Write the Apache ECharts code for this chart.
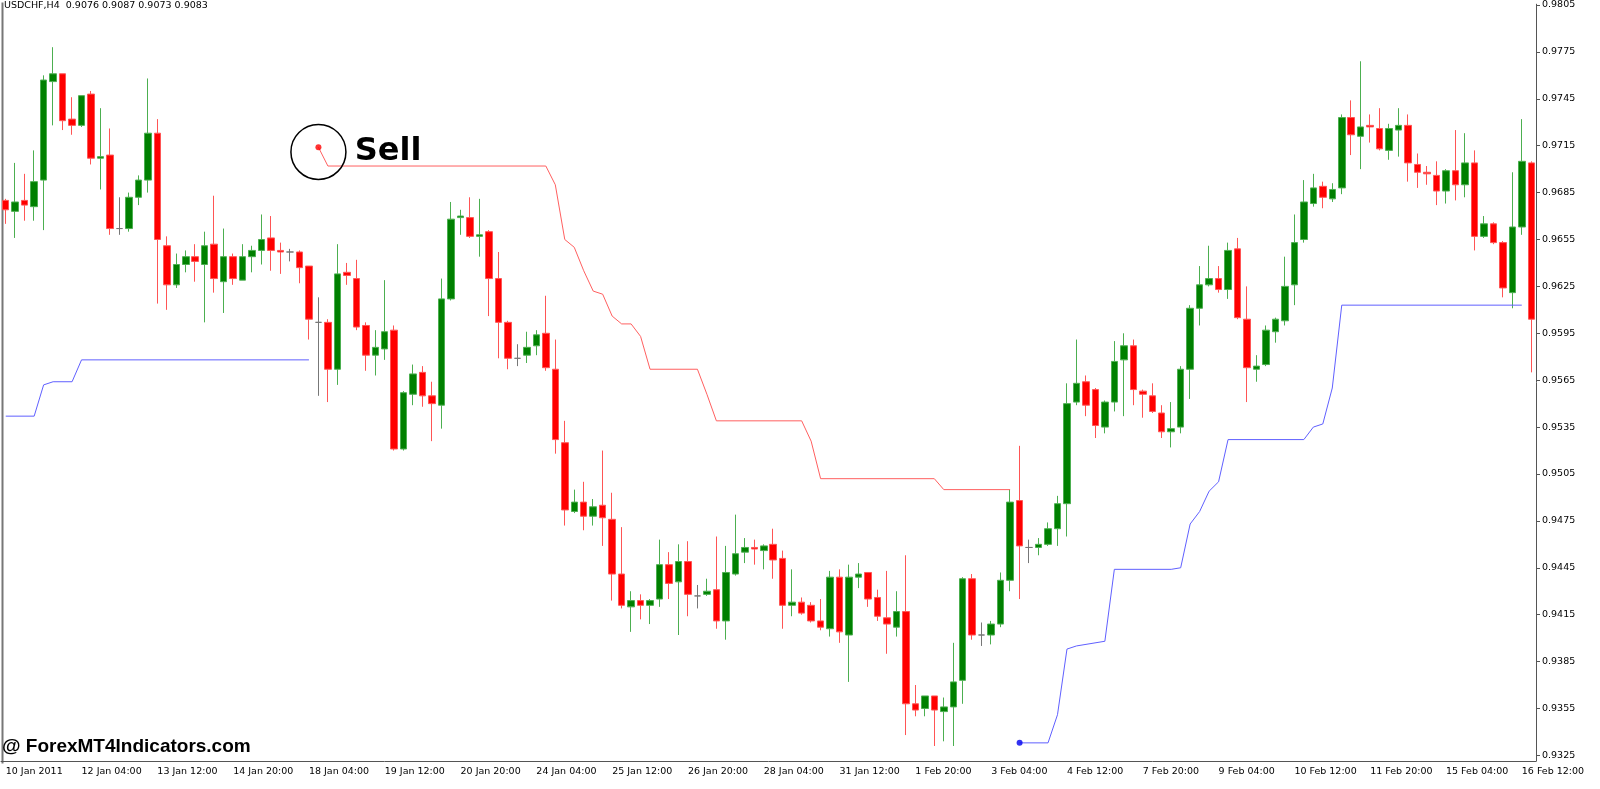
<!DOCTYPE html>
<html>
<head>
<meta charset="utf-8">
<script src="https://cdn.jsdelivr.net/npm/echarts@6/dist/echarts.min.js"></script>
<style>
  html, body { margin: 0; padding: 0; background: #fff; }
  #chart { width: 1600px; height: 789px; }
</style>
</head>
<body>
<div id="chart"></div>
<script>
// USDCHF H4 candles
const opens = [0.9680,0.9673,0.9680,0.9676,0.9693,0.9756,0.9761,0.9732,0.9728,0.9748,
  0.9707,0.9709,0.9662,0.9662,0.9682,0.9693,0.9723,0.9651,0.9626,0.9639,
  0.9644,0.9639,0.9652,0.9628,0.9644,0.9629,0.9644,0.9648,0.9656,0.9648,
  0.9647,0.9647,0.9638,0.9602,0.9602,0.9572,0.9634,0.9630,0.9600,0.9581,
  0.9585,0.9597,0.9521,0.9556,0.9570,0.9555,0.9549,0.9617,0.9669,0.9669,
  0.9657,0.9660,0.9630,0.9602,0.9579,0.9581,0.9587,0.9595,0.9572,0.9525,
  0.9481,0.9487,0.9478,0.9485,0.9476,0.9441,0.9420,0.9424,0.9421,0.9425,
  0.9447,0.9436,0.9449,0.9427,0.9428,0.9431,0.9411,0.9441,0.9455,0.9458,
  0.9456,0.9460,0.9451,0.9421,0.9423,0.9421,0.9411,0.9406,0.9439,0.9402,
  0.9439,0.9442,0.9426,0.9413,0.9407,0.9417,0.9358,0.9355,0.9363,0.9353,
  0.9356,0.9373,0.9438,0.9402,0.9402,0.9409,0.9437,0.9488,0.9458,0.9458,
  0.9460,0.9470,0.9486,0.9551,0.9564,0.9559,0.9535,0.9551,0.9578,0.9587,
  0.9558,0.9555,0.9544,0.9532,0.9535,0.9572,0.9611,0.9626,0.9630,0.9623,
  0.9649,0.9604,0.9572,0.9575,0.9596,0.9603,0.9626,0.9655,0.9678,0.9689,
  0.9681,0.9688,0.9733,0.9721,0.9728,0.9726,0.9712,0.9725,0.9728,0.9703,
  0.9698,0.9696,0.9686,0.9699,0.9690,0.9704,0.9657,0.9665,0.9653,0.9621,
  0.9663,0.9704];
const closes = [0.9674,0.9679,0.9677,0.9692,0.9757,0.9761,0.9731,0.9728,0.9747,0.9707,
  0.9708,0.9662,0.9662,0.9682,0.9693,0.9723,0.9655,0.9626,0.9639,0.9644,
  0.9641,0.9651,0.9630,0.9644,0.9630,0.9644,0.9648,0.9655,0.9648,0.9647,
  0.9647,0.9637,0.9604,0.9602,0.9572,0.9633,0.9632,0.9599,0.9581,0.9586,
  0.9596,0.9521,0.9557,0.9569,0.9555,0.9550,0.9617,0.9668,0.9670,0.9657,
  0.9658,0.9630,0.9602,0.9579,0.9579,0.9586,0.9594,0.9573,0.9527,0.9482,
  0.9487,0.9478,0.9484,0.9477,0.9441,0.9421,0.9424,0.9421,0.9424,0.9447,
  0.9435,0.9449,0.9428,0.9427,0.9430,0.9411,0.9442,0.9454,0.9458,0.9457,
  0.9459,0.9450,0.9421,0.9423,0.9416,0.9411,0.9407,0.9439,0.9404,0.9439,
  0.9441,0.9425,0.9414,0.9409,0.9417,0.9358,0.9354,0.9363,0.9354,0.9356,
  0.9372,0.9438,0.9402,0.9402,0.9409,0.9437,0.9487,0.9459,0.9458,0.9460,
  0.9470,0.9486,0.9550,0.9563,0.9549,0.9536,0.9551,0.9577,0.9587,0.9559,
  0.9556,0.9545,0.9532,0.9534,0.9572,0.9611,0.9626,0.9630,0.9623,0.9648,
  0.9605,0.9573,0.9574,0.9597,0.9604,0.9625,0.9653,0.9679,0.9688,0.9682,
  0.9687,0.9733,0.9722,0.9727,0.9727,0.9713,0.9726,0.9728,0.9704,0.9698,
  0.9697,0.9686,0.9699,0.9690,0.9704,0.9657,0.9665,0.9653,0.9624,0.9663,
  0.9705,0.9604];
const lows = [0.9665,0.9656,0.9667,0.9667,0.9661,0.9728,0.9725,0.9722,0.9727,0.9703,
  0.9687,0.9658,0.9658,0.9660,0.9677,0.9685,0.9614,0.9610,0.9624,0.9634,
  0.9628,0.9602,0.9621,0.9608,0.9626,0.9629,0.9634,0.9639,0.9635,0.9633,
  0.9641,0.9627,0.9591,0.9555,0.9551,0.9562,0.9626,0.9597,0.9571,0.9568,
  0.9578,0.9520,0.9520,0.9549,0.9548,0.9526,0.9534,0.9616,0.9658,0.9656,
  0.9644,0.9606,0.9579,0.9572,0.9574,0.9576,0.9581,0.9571,0.9518,0.9472,
  0.9480,0.9469,0.9472,0.9459,0.9424,0.9419,0.9404,0.9412,0.9409,0.9420,
  0.9425,0.9402,0.9414,0.9419,0.9427,0.9406,0.9399,0.9440,0.9448,0.9447,
  0.9444,0.9438,0.9406,0.9414,0.9415,0.9410,0.9405,0.9401,0.9397,0.9372,
  0.9432,0.9420,0.9411,0.9390,0.9401,0.9338,0.9350,0.9350,0.9331,0.9334,
  0.9331,0.9358,0.9399,0.9395,0.9396,0.9407,0.9430,0.9425,0.9448,0.9453,
  0.9459,0.9459,0.9465,0.9549,0.9542,0.9528,0.9531,0.9545,0.9542,0.9549,
  0.9541,0.9544,0.9528,0.9522,0.9531,0.9553,0.9600,0.9625,0.9621,0.9617,
  0.9604,0.9551,0.9564,0.9574,0.9589,0.9600,0.9613,0.9653,0.9676,0.9675,
  0.9679,0.9684,0.9709,0.9700,0.9717,0.9712,0.9706,0.9708,0.9692,0.9688,
  0.9690,0.9677,0.9678,0.9680,0.9682,0.9648,0.9656,0.9652,0.9618,0.9611,
  0.9658,0.9570];
const highs = [0.9681,0.9704,0.9697,0.9712,0.9760,0.9778,0.9761,0.9746,0.9747,0.9750,
  0.9739,0.9726,0.9682,0.9685,0.9696,0.9758,0.9732,0.9657,0.9646,0.9648,
  0.9652,0.9660,0.9683,0.9662,0.9646,0.9652,0.9651,0.9671,0.9670,0.9653,
  0.9649,0.9648,0.9638,0.9618,0.9604,0.9652,0.9640,0.9642,0.9602,0.9597,
  0.9629,0.9600,0.9558,0.9575,0.9574,0.9564,0.9630,0.9679,0.9674,0.9682,
  0.9681,0.9661,0.9647,0.9603,0.9588,0.9596,0.9597,0.9619,0.9591,0.9539,
  0.9495,0.9500,0.9489,0.9520,0.9493,0.9471,0.9430,0.9428,0.9425,0.9463,
  0.9455,0.9460,0.9462,0.9434,0.9438,0.9465,0.9459,0.9479,0.9464,0.9463,
  0.9460,0.9470,0.9456,0.9444,0.9426,0.9423,0.9425,0.9443,0.9444,0.9447,
  0.9448,0.9442,0.9431,0.9443,0.9430,0.9453,0.9370,0.9363,0.9363,0.9362,
  0.9397,0.9439,0.9441,0.9410,0.9411,0.9442,0.9495,0.9523,0.9463,0.9464,
  0.9474,0.9491,0.9563,0.9591,0.9568,0.9560,0.9552,0.9590,0.9595,0.9591,
  0.9559,0.9563,0.9549,0.9551,0.9574,0.9613,0.9638,0.9651,0.9638,0.9653,
  0.9656,0.9625,0.9581,0.9600,0.9605,0.9644,0.9671,0.9693,0.9697,0.9692,
  0.9691,0.9735,0.9744,0.9769,0.9735,0.9739,0.9729,0.9739,0.9735,0.9710,
  0.9702,0.9705,0.9700,0.9725,0.9723,0.9712,0.9670,0.9666,0.9654,0.9698,
  0.9732,0.9705];

// indicator lines: [bar index, level]
const sellLine = [[33,0.9714],[34,0.9702],[57,0.9702],[58,0.9690],[59,0.9655],[60,0.9650],
  [61,0.9635],[62,0.9622],[63,0.9620],[64,0.9606],[65,0.9601],[66,0.9601],[67,0.9593],
  [68,0.9572],[73,0.9572],[74,0.9556],[75,0.9539],[84,0.9539],[85,0.9526],[86,0.9502],
  [98,0.9502],[99,0.9495],[106,0.9495]];
const buyLineA = [[0,0.9542],[3,0.9542],[4,0.9562],[5,0.9564],[7,0.9564],[8,0.9578],[32,0.9578]];
const buyLineB = [[107,0.9333],[110,0.9333],[111,0.9351],[112,0.9393],[113,0.9395],[116,0.9398],
  [117,0.9444],[123,0.9444],[124,0.9445],[125,0.9473],[126,0.9481],[127,0.9494],[128,0.9500],
  [129,0.9527],[137,0.9527],[138,0.9535],[139,0.9537],[140,0.9560],[141,0.9613],[160,0.9613]];

const tickLabels = ['10 Jan 2011','12 Jan 04:00','13 Jan 12:00','14 Jan 20:00','18 Jan 04:00',
  '19 Jan 12:00','20 Jan 20:00','24 Jan 04:00','25 Jan 12:00','26 Jan 20:00','28 Jan 04:00',
  '31 Jan 12:00','1 Feb 20:00','3 Feb 04:00','4 Feb 12:00','7 Feb 20:00','9 Feb 04:00',
  '10 Feb 12:00','11 Feb 20:00','15 Feb 04:00','16 Feb 12:00'];
const priceTicks = [0.9325,0.9355,0.9385,0.9415,0.9445,0.9475,0.9505,0.9535,0.9565,
  0.9595,0.9625,0.9655,0.9685,0.9715,0.9745,0.9775,0.9805];

const cats = opens.map((_, i) => String(i))
const candles = opens.map((o, i) => [o, closes[i], lows[i], highs[i]])

var myChart = echarts.init(document.getElementById('chart'))
var option = {
  animation: false,
  backgroundColor: '#fff',
  grid: { left: 1, right: 64, top: 0, bottom: 28, containLabel: false },
  xAxis: {
    type: 'category',
    data: cats,
    boundaryGap: true,
    axisLine: { lineStyle: { color: '#555' } },
    axisTick: { interval: (i) => i % 8 === 0, length: 4, alignWithLabel: true, lineStyle: { color: '#555' } },
    axisLabel: {
      interval: (i) => i % 8 === 0,
      formatter: (v) => tickLabels[Number(v) / 8] || '',
      align: 'left', margin: 6,
      fontFamily: 'DejaVu Sans', fontSize: 9.5, color: '#000'
    },
    splitLine: { show: false }
  },
  yAxis: {
    type: 'value',
    position: 'right',
    min: 0.93214, max: 0.98055,
    axisLine: { show: true, lineStyle: { color: '#555' } },
    axisTick: { show: true, customValues: priceTicks, length: 4, lineStyle: { color: '#555' } },
    axisLabel: {
      customValues: priceTicks,
      formatter: (v) => v.toFixed(4),
      fontFamily: 'DejaVu Sans', fontSize: 9.5, color: '#000', margin: 6
    },
    splitLine: { show: false }
  },
  graphic: [
    { type: 'line', left: 0, top: 0, shape: { x1: 0, y1: 0, x2: 0, y2: 761 }, style: { stroke: '#777', lineWidth: 2 } },
    { type: 'text', left: 4, top: 1, style: { text: 'USDCHF,H4  0.9076 0.9087 0.9073 0.9083', font: '9.5px DejaVu Sans', fill: '#000' } },
    { type: 'text', left: 2, top: 737, style: { text: '@ ForexMT4Indicators.com', font: 'bold 19px Liberation Sans', fill: '#000' } }
  ],
  series: [
    {
      type: 'candlestick',
      data: candles,
      barWidth: 7,
      itemStyle: {
        color: '#008000', color0: '#ff0000',
        borderColor: '#4caf50', borderColor0: '#ff5555',
        borderColorDoji: '#777', borderWidth: 1
      }
    },
    {
      type: 'line', data: sellLine, symbol: 'none', z: 3,
      lineStyle: { color: '#ff6060', width: 1 }
    },
    {
      type: 'line', data: buyLineA, symbol: 'none', z: 3,
      lineStyle: { color: '#6060ff', width: 1 }
    },
    {
      type: 'line', data: buyLineB, symbol: 'none', z: 3,
      lineStyle: { color: '#6060ff', width: 1 }
    },
    {
      type: 'scatter', z: 4,
      data: [[33, 0.9714]], symbolSize: 6,
      itemStyle: { color: '#ff0000' }
    },
    {
      type: 'scatter', z: 4,
      data: [[107, 0.9333]], symbolSize: 6,
      itemStyle: { color: '#0000ee' }
    },
    {
      type: 'scatter', z: 5,
      data: [[33, 0.9711]], symbol: 'circle', symbolSize: 55,
      itemStyle: { color: 'rgba(0,0,0,0)', borderColor: '#000', borderWidth: 1.5, opacity: 1 },
      emphasis: { disabled: true },
      label: {
        show: true, position: 'right', distance: 8,
        formatter: 'Sell', fontFamily: 'DejaVu Sans', fontWeight: 'bold', fontSize: 32, color: '#000', opacity: 1
      }
    }
  ]
}
option && myChart.setOption(option)
</script>
</body>
</html>
